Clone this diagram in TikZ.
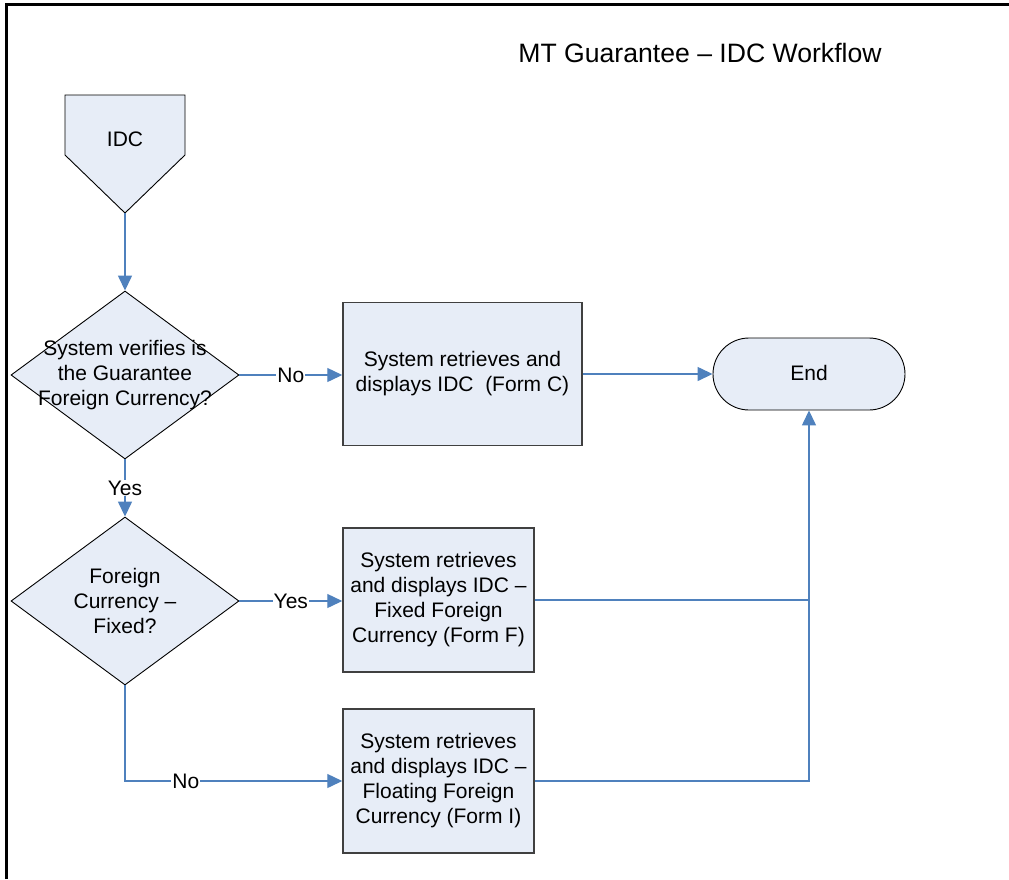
\documentclass[tikz,border=0pt]{standalone}
\usepackage{fontspec}
\setmainfont{Liberation Sans}
\usetikzlibrary{arrows.meta,shapes.geometric}
\definecolor{fillblue}{RGB}{231,237,247}
\definecolor{lineblue}{RGB}{79,129,189}
\definecolor{boxedge}{RGB}{64,64,64}
\tikzset{
  bodytext/.style={font=\fontsize{21}{25}\selectfont, align=center, inner sep=0pt},
  procbox/.style={draw=boxedge, line width=1.5pt, fill=fillblue, inner sep=0pt},
  decision/.style={diamond, draw=black, line width=0.9pt, fill=fillblue, inner sep=0pt, minimum width=228pt, minimum height=168pt},
  terminal/.style={draw=black, line width=0.9pt, fill=fillblue, rounded corners=36pt, minimum width=192pt, minimum height=72pt, inner sep=0pt},
  conn/.style={draw=lineblue, line width=1.4pt},
  arr/.style={conn, -{Triangle[length=15pt,width=14pt]}},
  lbl/.style={font=\fontsize{21}{25}\selectfont, fill=white, inner sep=1pt}
}
\begin{document}
\begin{tikzpicture}[x=1pt,y=-1pt]
\useasboundingbox (0,0) rectangle (1009,879);
% frame
\draw[line width=2.5pt] (6.5,879) -- (6.5,4.5) -- (1009,4.5);
% title
\node[font=\fontsize{26.6}{30}\selectfont, inner sep=0pt] (title) at (700,53) {MT Guarantee -- IDC Workflow};
% IDC off-page shape
\draw[draw=black, line width=0.9pt, fill=fillblue] (65,95) -- (185,95) -- (185,155) -- (125,213) -- (65,155) -- cycle;
\coordinate (idctip) at (125,213);
\node[bodytext] (idc) at (125,139) {IDC};
% decisions
\node[decision] (d1) at (125,375) {};
\node[bodytext] (d1t) at (125,375) {System verifies is\\the Guarantee\\Foreign Currency?};
\node[decision] (d2) at (125,601) {};
\node[bodytext] (d2t) at (125,601) {Foreign\\Currency --\\Fixed?};
% process boxes
\node[procbox, minimum width=239pt, minimum height=143pt] (bc) at (462.5,374) {};
\node[bodytext] (bct) at (462.5,374) {System retrieves and\\displays IDC\ \ (Form C)};
\node[procbox, minimum width=191pt, minimum height=144pt] (bf) at (438.5,600) {};
\node[bodytext] (bft) at (438.5,600) {System retrieves\\and displays IDC --\\Fixed Foreign\\Currency (Form F)};
\node[procbox, minimum width=191pt, minimum height=144pt] (bi) at (438.5,781) {};
\node[bodytext] (bit) at (438.5,781) {System retrieves\\and displays IDC --\\Floating Foreign\\Currency (Form I)};
% end
\node[terminal] (end) at (809,374) {};
\node[bodytext] (endt) at (809,373) {End};
% connectors
\draw[arr] (idctip) -- (d1.north);
\draw[arr] (d1.east) -- node[lbl] (no1) {No} (d1.east -| bc.west);
\draw[arr] (bc.east) -- (end.west);
\draw[arr] (d1.south) -- node[lbl] (yes1) {Yes} (d2.north);
\draw[arr] (d2.east) -- node[lbl] (yes2) {Yes} (d2.east -| bf.west);
\draw[arr] (d2.south) |- node[lbl, pos=0.64] (no2) {No} (bi.west);
\draw[conn] (bf.east) -- (bf.east -| end.south);
\draw[arr] (bi.east) -| (end.south);
\end{tikzpicture}
\end{document}
